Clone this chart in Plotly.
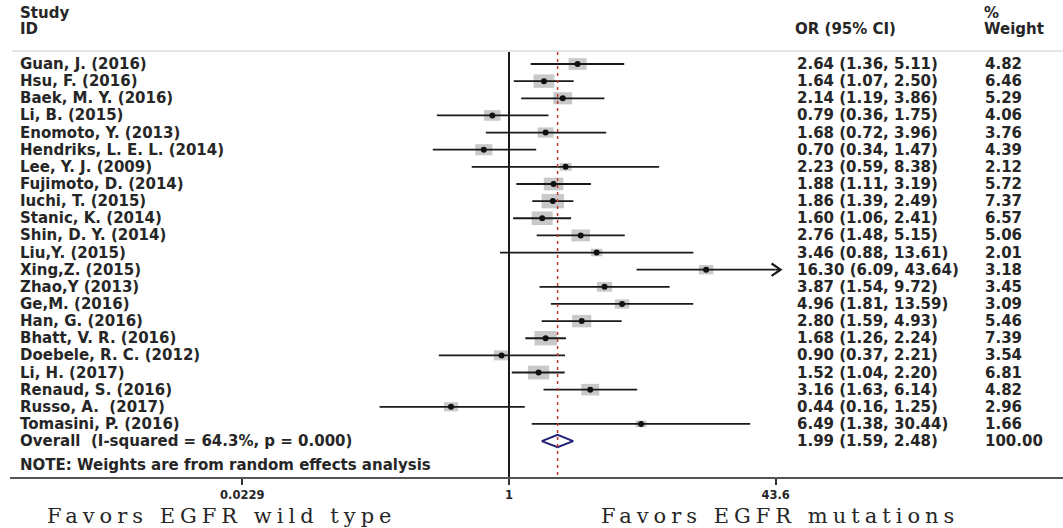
import numpy as np
import plotly.graph_objects as go

# ---------------- data ----------------
studies = ["Guan, J. (2016)", "Hsu, F. (2016)", "Baek, M. Y. (2016)", "Li, B. (2015)",
           "Enomoto, Y. (2013)", "Hendriks, L. E. L. (2014)", "Lee, Y. J. (2009)",
           "Fujimoto, D. (2014)", "Iuchi, T. (2015)", "Stanic, K. (2014)", "Shin, D. Y. (2014)",
           "Liu,Y. (2015)", "Xing,Z. (2015)", "Zhao,Y (2013)", "Ge,M. (2016)", "Han, G. (2016)",
           "Bhatt, V. R. (2016)", "Doebele, R. C. (2012)", "Li, H. (2017)", "Renaud, S. (2016)",
           "Russo, A.\u00a0 (2017)", "Tomasini, P. (2016)"]
or_est = [2.64, 1.64, 2.14, 0.79, 1.68, 0.70, 2.23, 1.88, 1.86, 1.60, 2.76,
          3.46, 16.30, 3.87, 4.96, 2.80, 1.68, 0.90, 1.52, 3.16, 0.44, 6.49]
ci_low = [1.36, 1.07, 1.19, 0.36, 0.72, 0.34, 0.59, 1.11, 1.39, 1.06, 1.48,
          0.88, 6.09, 1.54, 1.81, 1.59, 1.26, 0.37, 1.04, 1.63, 0.16, 1.38]
ci_high = [5.11, 2.50, 3.86, 1.75, 3.96, 1.47, 8.38, 3.19, 2.49, 2.41, 5.15,
           13.61, 43.64, 9.72, 13.59, 4.93, 2.24, 2.21, 2.20, 6.14, 1.25, 30.44]
weights = [4.82, 6.46, 5.29, 4.06, 3.76, 4.39, 2.12, 5.72, 7.37, 6.57, 5.06,
           2.01, 3.18, 3.45, 3.09, 5.46, 7.39, 3.54, 6.81, 4.82, 2.96, 1.66]
overall_label = "Overall\u00a0 (I-squared = 64.3%, p = 0.000)"
overall_est = 1.99
overall_low = 1.59
overall_high = 2.48
overall_weight = 100.00
note_text = "NOTE: Weights are from random effects analysis"
tick_values = [0.0229, 1, 43.6]
tick_labels = ["0.0229", "1", "43.6"]
left_label = "Favors EGFR wild type"
right_label = "Favors EGFR mutations"

# ---------------- geometry (pixels) ----------------
W, H = 1063, 528
PX_DEC = 162.6          # pixels per decade on the x axis
X_ONE = 509             # pixel of OR = 1
ROW0, ROWH = 64, 17.14  # pixel of first row, row spacing
AXIS_Y = 477            # pixel of x-axis line
X_LEFT = 10

def ypx(p):
    return 1 + (p - ROW0) / ROWH

FONT = "DejaVu Sans"
FS = 15
TXT = "#262626"

n = len(studies)
rows = np.arange(1, n + 1)
lx = np.log10(or_est)
lo = np.log10(ci_low)
x_max = np.log10(max(tick_values))
x_min = np.log10(min(tick_values))
hi_raw = np.log10(ci_high)
hi = np.minimum(hi_raw, x_max)

fig = go.Figure()

# CI lines
xs, ys = [], []
for i in range(n):
    xs += [max(lo[i], x_min), hi[i], None]
    ys += [rows[i], rows[i], None]
fig.add_trace(go.Scatter(x=xs, y=ys, mode="lines", line=dict(color="#1a1a1a", width=1.8),
                         hoverinfo="skip", showlegend=False))

# arrows for clipped CIs
ax_, ay_ = [], []
head = 9 / PX_DEC
for i in range(n):
    if hi_raw[i] > x_max:
        tip = x_max + 5 / PX_DEC
        ax_ += [tip - head, tip, tip - head, None]
        ay_ += [rows[i] - 0.36, rows[i], rows[i] + 0.36, None]
        fig.add_trace(go.Scatter(x=[hi[i], tip], y=[rows[i], rows[i]], mode="lines",
                                 line=dict(color="#1a1a1a", width=1.8),
                                 hoverinfo="skip", showlegend=False))
fig.add_trace(go.Scatter(x=ax_, y=ay_, mode="lines", line=dict(color="#1a1a1a", width=2.2),
                         hoverinfo="skip", showlegend=False))

# weight boxes
for i in range(n):
    bw = 8.2 * np.sqrt(weights[i])
    bh = 5.3 * np.sqrt(weights[i])
    fig.add_shape(type="rect", xref="x", yref="y", xsizemode="pixel", ysizemode="pixel",
                  xanchor=lx[i], yanchor=rows[i], x0=-bw / 2, x1=bw / 2, y0=-bh / 2, y1=bh / 2,
                  fillcolor="#c9c9c9", line=dict(width=0), layer="below")

# point estimates
fig.add_trace(go.Scatter(x=lx, y=rows, mode="markers",
                         marker=dict(color="#111111", size=6, symbol="circle"),
                         hoverinfo="skip", showlegend=False))

# null line and overall line
top_px, bot_px = 52, AXIS_Y
fig.add_shape(type="line", xref="x", yref="y", x0=0, x1=0, y0=ypx(top_px), y1=ypx(bot_px + 7),
              line=dict(color="#1a1a1a", width=2))
oy = n + 1
fig.add_shape(type="line", xref="x", yref="y", x0=np.log10(overall_est), x1=np.log10(overall_est),
              y0=ypx(top_px), y1=ypx(bot_px - 2),
              line=dict(color="#c0392b", width=1.5, dash="3px,4px"))

# overall diamond
ol, oe, oh = np.log10(overall_low), np.log10(overall_est), np.log10(overall_high)
fig.add_trace(go.Scatter(x=[ol, oe, oh, oe, ol], y=[oy, oy - 0.36, oy, oy + 0.36, oy],
                         mode="lines", line=dict(color="#1f1f7a", width=2),
                         hoverinfo="skip", showlegend=False))

# header line
fig.add_shape(type="line", xref="paper", yref="y", x0=12 / W, x1=1, y0=ypx(51), y1=ypx(51),
              line=dict(color="#dcdcdc", width=1.5))

ann = []
def txt(x_px, y, s, size=FS, font=FONT, xanchor="left", yref="y", weight="bold"):
    ann.append(dict(x=x_px / W, xref="paper", y=y, yref=yref, text=s, showarrow=False,
                    xanchor=xanchor, yanchor="middle",
                    font=dict(family=font, size=size, color=TXT, weight=weight)))

# headers
txt(18, ypx(13), "Study")
txt(18, ypx(29), "ID")
txt(793, ypx(29), "OR (95% CI)")
txt(982, ypx(13), "%")
txt(982, ypx(29), "Weight")

for i in range(n):
    txt(18, rows[i], studies[i])
    txt(795, rows[i], f"{or_est[i]:.2f} ({ci_low[i]:.2f}, {ci_high[i]:.2f})")
    txt(983, rows[i], f"{weights[i]:.2f}")
txt(18, oy, overall_label)
txt(795, oy, f"{overall_est:.2f} ({overall_low:.2f}, {overall_high:.2f})")
txt(983, oy, f"{overall_weight:.2f}")
txt(18, ypx(465), note_text)

def spaced(s):
    return f'<span style="letter-spacing:5px">{s}</span>'

txt(222, 1 - 516 / H, spaced(left_label), size=21, font="DejaVu Serif", xanchor="center",
    yref="paper", weight="normal")
txt(780, 1 - 516 / H, spaced(right_label), size=21, font="DejaVu Serif", xanchor="center",
    yref="paper", weight="normal")

fig.update_layout(
    width=W, height=H, autosize=False,
    margin=dict(l=0, r=0, t=0, b=0, pad=0),
    paper_bgcolor="white", plot_bgcolor="white",
    annotations=ann,
    xaxis=dict(domain=[X_LEFT / W, 1],
               range=[(X_LEFT - X_ONE) / PX_DEC, (W - X_ONE) / PX_DEC],
               showgrid=False, zeroline=False, showline=True, linecolor="#555555", linewidth=2,
               ticks="outside", ticklen=6, tickwidth=2, tickcolor="#333333",
               tickvals=list(np.log10(tick_values)), ticktext=tick_labels,
               tickfont=dict(family=FONT, size=11.5, color=TXT, weight="bold"), fixedrange=True),
    yaxis=dict(domain=[(H - AXIS_Y) / H, 1],
               range=[ypx(AXIS_Y), ypx(0)],
               showgrid=False, zeroline=False, showline=False, showticklabels=False,
               ticks="", fixedrange=True),
)

fig.write_html("out.html")
